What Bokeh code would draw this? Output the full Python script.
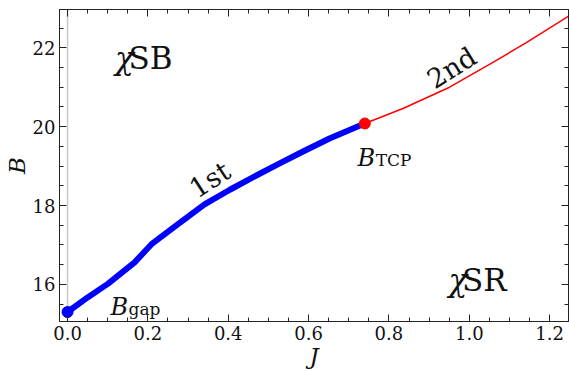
from bokeh.plotting import figure
from bokeh.models import FixedTicker, LinearAxis, Span, Range1d
from bokeh.embed import file_html
from bokeh.resources import INLINE
from bokeh.core.properties import value

# data
first_J = [0.0, 0.05, 0.101, 0.167, 0.209, 0.275, 0.341, 0.404, 0.466, 0.528, 0.59, 0.652, 0.74]
first_B = [15.3, 15.67, 16.02, 16.56, 17.02, 17.53, 18.03, 18.40, 18.74, 19.07, 19.39, 19.70, 20.08]
second_J = [0.74, 0.835, 0.951, 1.059, 1.142, 1.25]
second_B = [20.08, 20.46, 21.0, 21.63, 22.13, 22.82]
gap_point = (0.0, 15.3)
tcp_point = (0.74, 20.08)
x_ticks = [0.0, 0.2, 0.4, 0.6, 0.8, 1.0, 1.2]
x_tick_labels = ["0.0", "0.2", "0.4", "0.6", "0.8", "1.0", "1.2"]
y_ticks = [16, 18, 20, 22]
y_tick_labels = ["16", "18", "20", "22"]

FONT = "DejaVu Serif"

p = figure(width=569, height=371, output_backend="svg", toolbar_location=None,
           x_range=Range1d(-0.02, 1.247), y_range=Range1d(15.06, 22.97),
           min_border_left=59, min_border_right=1, min_border_top=9, min_border_bottom=47)
p.grid.visible = False
p.outline_line_color = "#222222"
p.outline_line_width = 1
p.background_fill_color = "white"
p.border_fill_color = "white"

# x=0 light line
p.add_layout(Span(location=0, dimension="height", line_color="#c8c8c8", line_width=1.5, level="underlay"))

x_minor = [round(i * 0.05, 3) for i in range(-1, 26)]
y_minor = [15 + 0.5 * i for i in range(0, 17)]

def style_axis(ax, ticks, minor, labels, show_labels=True):
    ax.ticker = FixedTicker(ticks=ticks, minor_ticks=minor)
    ax.major_tick_in = 7
    ax.major_tick_out = 0
    ax.minor_tick_in = 4
    ax.minor_tick_out = 0
    ax.axis_line_color = "#222222"
    ax.major_tick_line_color = "#222222"
    ax.minor_tick_line_color = "#222222"
    ax.major_label_text_font = FONT
    ax.major_label_text_font_size = "18px"
    ax.major_label_text_color = "#111111"
    if show_labels:
        ax.major_label_overrides = {t: l for t, l in zip(ticks, labels)}
    else:
        ax.major_label_text_font_size = "1px"
        ax.major_label_text_color = None
        ax.major_label_standoff = 0

style_axis(p.xaxis[0], x_ticks, x_minor, x_tick_labels)
style_axis(p.yaxis[0], y_ticks, y_minor, y_tick_labels)
p.xaxis[0].major_label_standoff = 4
p.yaxis[0].major_label_standoff = 4
p.xaxis[0].axis_label = "J"
p.yaxis[0].axis_label = "B"
for ax in (p.xaxis[0], p.yaxis[0]):
    ax.axis_label_text_font = FONT
    ax.axis_label_text_font_style = "italic"
    ax.axis_label_text_font_size = "23px"
    ax.axis_label_text_color = "#111111"
p.xaxis[0].axis_label_standoff = 0
p.yaxis[0].axis_label_standoff = 0

top = LinearAxis()
style_axis(top, x_ticks, x_minor, x_tick_labels, show_labels=False)
p.add_layout(top, "above")
right = LinearAxis()
style_axis(right, y_ticks, y_minor, y_tick_labels, show_labels=False)
p.add_layout(right, "right")

# lines
p.line(second_J, second_B, line_color="red", line_width=1.5, line_join="round")
p.line(first_J, first_B, line_color="blue", line_width=6, line_join="round", line_cap="round")
p.scatter([gap_point[0]], [gap_point[1]], size=11, color="blue")
p.scatter([tcp_point[0]], [tcp_point[1]], size=11, color="red")

# labels
def txt(x, y, t, size, style="normal", angle=0, align="left", baseline="alphabetic", xo=0, yo=0):
    p.text([x], [y], text=[t], text_font=value(FONT), text_font_size=size,
           text_font_style=style, angle=angle, angle_units="deg", text_align=align,
           text_baseline=baseline, text_color="#111111", x_offset=xo, y_offset=yo)

# chi SB
txt(0.118, 21.75, "χ", "31px", "italic")
txt(0.152, 21.75, "SB", "31px")
# chi SR
txt(0.948, 16.1, "χ", "31px", "italic")
txt(0.982, 16.1, "SR", "31px")
# 1st, 2nd
txt(0.354, 18.66, "1st", "27px", angle=33, align="center", baseline="middle")
txt(0.956, 21.49, "2nd", "27px", angle=32, align="center", baseline="middle")
# B_gap
txt(0.107, 15.42, "B", "24px", "italic")
txt(0.152, 15.42, "gap", "17px", yo=2)
# B_TCP
txt(0.722, 19.2, "B", "24px", "italic")
txt(0.767, 19.2, "TCP", "17px", yo=2)

open("out.html", "w").write(file_html(p, INLINE))
